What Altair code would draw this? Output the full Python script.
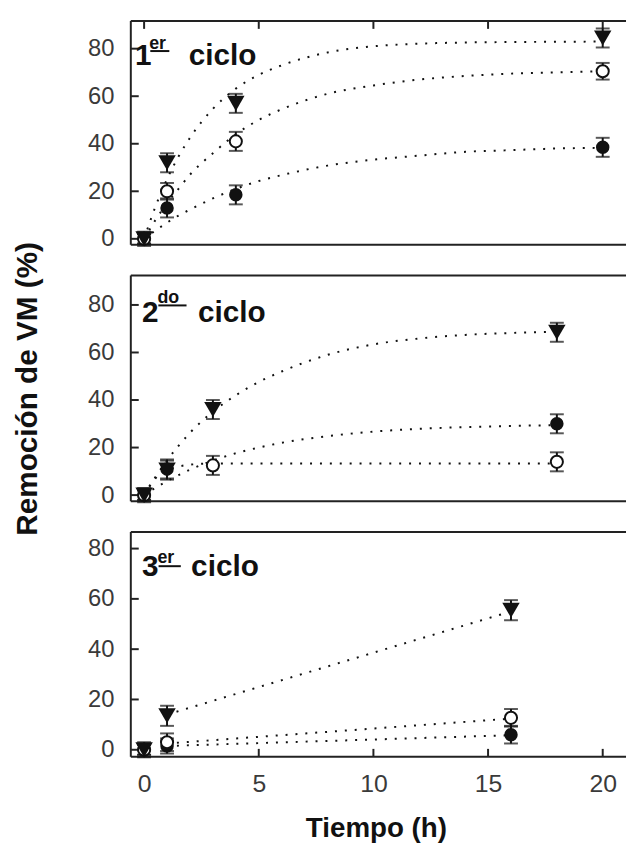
import altair as alt
import pandas as pd

FONT = "Liberation Sans"
INK = "#111111"
FRAME = "#222222"

# ---------------- shared axes ----------------
X_DOMAIN = [-0.58, 20.8]
X_TICKS = [0, 5, 10, 15, 20]
Y_TICKS = [0, 20, 40, 60, 80]
PLOT_W = 495
RULE_W = 500

# ---------------- panel 1: 1er ciclo ----------------
p1_tri_t = [0, 1, 4, 20]
p1_tri_v = [0, 32, 57, 84.5]
p1_tri_e = [3, 4, 4, 4]
p1_open_t = [0, 1, 4, 20]
p1_open_v = [0, 20, 41, 70.5]
p1_open_e = [2, 3.5, 4, 3.5]
p1_fill_t = [0, 1, 4, 20]
p1_fill_v = [0, 13, 18.5, 38.5]
p1_fill_e = [2, 4, 4, 4]
p1_fit_t = [0, 0.5, 1, 1.5, 2, 3, 4, 5, 6, 8, 10, 12, 14, 16, 18, 20]
p1_fit_tri = [0, 13.7, 25.1, 34.6, 42.5, 54.7, 63.2, 69, 73, 78.4, 81, 82.1, 82.6, 82.8, 82.9, 83]
p1_fit_open = [0, 8, 15, 21, 27, 36, 44, 50, 54.5, 61, 64.5, 67, 68.5, 69.5, 70, 70.5]
p1_fit_fill = [0, 3.5, 6.8, 9.8, 12.3, 17, 21, 24.3, 26.8, 30.8, 33.3, 35, 36.6, 37.3, 38, 38.3]

# ---------------- panel 2: 2do ciclo ----------------
p2_tri_t = [0, 1, 3, 18]
p2_tri_v = [0, 10.5, 36, 68.5]
p2_tri_e = [3, 4, 4, 4]
p2_open_t = [0, 3, 18]
p2_open_v = [0, 12.5, 14]
p2_open_e = [2, 4, 4]
p2_fill_t = [0, 1, 18]
p2_fill_v = [0, 11, 30]
p2_fill_e = [2, 4, 4]
p2_fit_t = [0, 0.5, 1, 1.5, 2, 3, 4, 5, 6, 8, 10, 12, 14, 16, 18]
p2_fit_tri = [0, 7.7, 14.6, 20.7, 26.2, 35.1, 42, 47.6, 52, 59, 63.4, 65.9, 67.4, 68.2, 68.7]
p2_fit_open = [0, 7.1, 10.5, 12, 12.8, 13.3, 13.3, 13.3, 13.3, 13.3, 13.3, 13.3, 13.3, 13.3, 13.3]
p2_fit_fill = [0, 3.1, 5.9, 8.4, 10.7, 14.5, 17.6, 20, 22, 24.8, 26.7, 27.9, 28.6, 29.1, 29.4]

# ---------------- panel 3: 3er ciclo ----------------
p3_tri_t = [0, 1, 16]
p3_tri_v = [0, 13.5, 55.5]
p3_tri_e = [3, 4, 4]
p3_open_t = [0, 1, 16]
p3_open_v = [0, 3, 12.7]
p3_open_e = [2, 3.5, 3.5]
p3_fill_t = [0, 1, 16]
p3_fill_v = [0, 1.5, 6]
p3_fill_e = [2, 3, 3.5]
p3_fit_t = [1, 16]
p3_fit_tri = [14, 55]
p3_fit_open = [2.5, 12.4]
p3_fit_fill = [1.5, 5.8]

# ---------------- panel labels (number, superscript, "ciclo") ----------------
ann_text = ["1", "er", "ciclo"], ["2", "do", "ciclo"], ["3", "er", "ciclo"]
ann_size = [30, 18, 30]
ann_t = [[-0.4, 0.22, 1.95], [-0.09, 0.58, 2.35], [-0.09, 0.58, 2.05]]
ann_v = [[73.1, 80.0, 73.1], [72.9, 80.8, 72.9], [69.0, 74.1, 69.0]]
ul_t0 = [0.27, 0.62, 0.63]
ul_t1 = [1.1, 1.85, 1.6]
ul_v = [79.0, 79.8, 73.0]

Y_DOMAINS = [[-2.5, 91.67], [-2.6, 92.4], [-2.8, 86.6]]
HEIGHTS = [226, 228, 227]


def pts_frame(t, v, e):
    return pd.DataFrame({"t": t, "v": v,
                         "lo": [a - b for a, b in zip(v, e)],
                         "hi": [a + b for a, b in zip(v, e)]})


def make_panel(i, series, fits, top_ticks, bottom_axis, ytitle):
    H = HEIGHTS[i]
    yscale = alt.Scale(domain=Y_DOMAINS[i], nice=False, zero=False)
    xscale = alt.Scale(domain=X_DOMAIN, nice=False, zero=False)
    yaxis = alt.Axis(values=Y_TICKS, ticks=False, tickSize=0, domain=False, grid=False,
                     labelFont=FONT, labelFontSize=24, labelColor="#3a3a3a", labelPadding=17,
                     title=ytitle if ytitle else None, titleFont=FONT, titleFontSize=30,
                     titleFontWeight="bold", titleColor=INK, titlePadding=46)
    if bottom_axis:
        xaxis = alt.Axis(values=X_TICKS, ticks=False, tickSize=0, domain=False, grid=False,
                         labelFont=FONT, labelFontSize=25, labelColor="#3a3a3a", labelPadding=15,
                         title="Tiempo (h)", titleFont=FONT, titleFontSize=28,
                         titleFontWeight="bold", titleColor=INK, titlePadding=18)
    else:
        xaxis = None

    def X(f):
        return alt.X(f + ":Q", scale=xscale, axis=xaxis)

    def Y(f):
        return alt.Y(f + ":Q", scale=yscale, axis=yaxis)

    one = alt.Data(values=[{"a": 1}])
    layers = []
    # frame (left, top, bottom)
    layers.append(alt.Chart(one).mark_rule(color=FRAME, strokeWidth=2).encode(
        x=alt.value(0), y=alt.value(0), y2=alt.value(H)))
    layers.append(alt.Chart(one).mark_rule(color=FRAME, strokeWidth=2).encode(
        x=alt.value(0), x2=alt.value(RULE_W), y=alt.value(0)))
    layers.append(alt.Chart(one).mark_rule(color=FRAME, strokeWidth=2).encode(
        x=alt.value(0), x2=alt.value(RULE_W), y=alt.value(H)))
    # inside y ticks
    layers.append(alt.Chart(pd.DataFrame({"v": Y_TICKS})).mark_rule(color=FRAME, strokeWidth=2).encode(
        y=Y("v"), x=alt.value(0), x2=alt.value(8)))
    if top_ticks:
        layers.append(alt.Chart(pd.DataFrame({"t": X_TICKS})).mark_rule(color=FRAME, strokeWidth=2).encode(
            x=X("t"), y=alt.value(0), y2=alt.value(8)))
    if bottom_axis:
        layers.append(alt.Chart(pd.DataFrame({"t": X_TICKS})).mark_rule(color=FRAME, strokeWidth=2).encode(
            x=X("t"), y=alt.value(H - 8), y2=alt.value(H)))

    # fitted dotted curves
    for ft, fv in fits:
        layers.append(alt.Chart(pd.DataFrame({"t": ft, "v": fv})).mark_line(
            color=INK, strokeWidth=2, strokeDash=[2, 8], interpolate="monotone").encode(
            x=X("t"), y=Y("v")))

    # error bars + markers: filled circles, open circles, triangles
    styles = {
        "fill": dict(shape="circle", filled=True, color=INK, size=185, opacity=1, strokeWidth=0),
        "open": dict(shape="circle", filled=True, fill="white", stroke=INK, strokeWidth=2,
                     size=150, opacity=1),
        "tri": dict(shape="triangle-down", filled=True, color=INK, size=310, opacity=1, strokeWidth=0),
    }
    for key in ["fill", "open", "tri"]:
        df = series[key]
        base = alt.Chart(df)
        layers.append(base.mark_rule(color=INK, strokeWidth=2).encode(
            x=X("t"), y=Y("lo"), y2="hi:Q"))
        layers.append(base.mark_tick(color=INK, orient="horizontal", size=14, thickness=2).encode(
            x=X("t"), y=Y("lo")))
        layers.append(base.mark_tick(color=INK, orient="horizontal", size=14, thickness=2).encode(
            x=X("t"), y=Y("hi")))
        layers.append(base.mark_point(**styles[key]).encode(x=X("t"), y=Y("v")))

    # panel label
    adf = pd.DataFrame({"t": ann_t[i], "v": ann_v[i], "text": list(ann_text[i]), "fs": ann_size})
    layers.append(alt.Chart(adf).mark_text(align="left", baseline="alphabetic", font=FONT,
                                           fontWeight="bold", color=INK).encode(
        x=X("t"), y=Y("v"), text="text:N", size=alt.Size("fs:Q", scale=None, legend=None)))
    udf = pd.DataFrame({"t0": [ul_t0[i]], "t1": [ul_t1[i]], "v": [ul_v[i]]})
    layers.append(alt.Chart(udf).mark_rule(color=INK, strokeWidth=2).encode(
        x=X("t0"), x2="t1:Q", y=Y("v")))

    return alt.layer(*layers).properties(width=PLOT_W, height=H)


panels = []
specs = [
    (dict(tri=pts_frame(p1_tri_t, p1_tri_v, p1_tri_e), open=pts_frame(p1_open_t, p1_open_v, p1_open_e),
          fill=pts_frame(p1_fill_t, p1_fill_v, p1_fill_e)),
     [(p1_fit_t, p1_fit_tri), (p1_fit_t, p1_fit_open), (p1_fit_t, p1_fit_fill)], True, False, None),
    (dict(tri=pts_frame(p2_tri_t, p2_tri_v, p2_tri_e), open=pts_frame(p2_open_t, p2_open_v, p2_open_e),
          fill=pts_frame(p2_fill_t, p2_fill_v, p2_fill_e)),
     [(p2_fit_t, p2_fit_tri), (p2_fit_t, p2_fit_open), (p2_fit_t, p2_fit_fill)], False, False,
     "Remoción de VM (%)"),
    (dict(tri=pts_frame(p3_tri_t, p3_tri_v, p3_tri_e), open=pts_frame(p3_open_t, p3_open_v, p3_open_e),
          fill=pts_frame(p3_fill_t, p3_fill_v, p3_fill_e)),
     [(p3_fit_t, p3_fit_tri), (p3_fit_t, p3_fit_open), (p3_fit_t, p3_fit_fill)], False, True, None),
]
for i, (series, fits, top, bottom, yt) in enumerate(specs):
    panels.append(make_panel(i, series, fits, top, bottom, yt))

chart = alt.vconcat(*panels, spacing=31, bounds="flush").properties(
    padding={"left": 4, "top": 8, "right": 0, "bottom": 0},
    background="white",
).configure_view(strokeWidth=0).configure_axis(grid=False)

chart.save("out.html", embed_options={"renderer": "svg", "actions": False})
